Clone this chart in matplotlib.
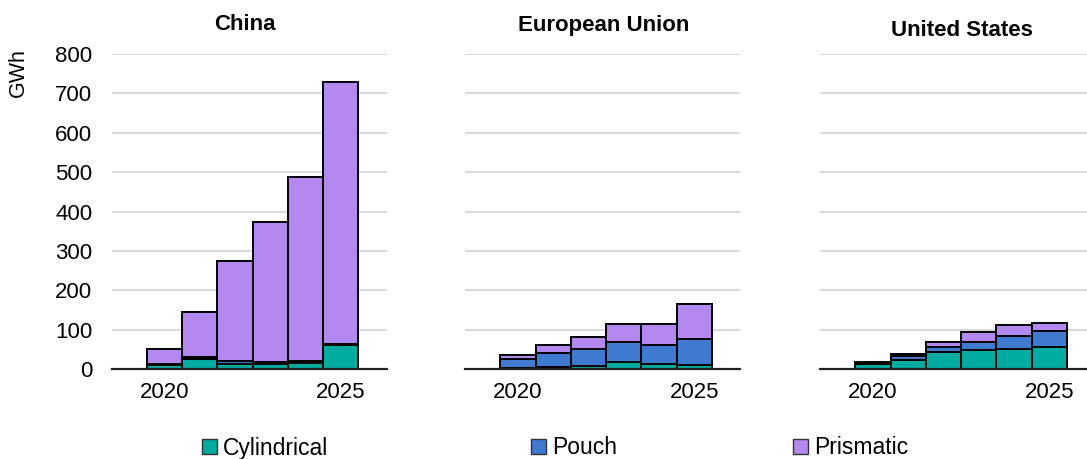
import matplotlib
matplotlib.use("Agg")
import matplotlib.pyplot as plt
from matplotlib.patches import Patch

plt.rcParams['font.family'] = ['Liberation Sans', 'DejaVu Sans']

years = [2020, 2021, 2022, 2023, 2024, 2025]
regions = ["China", "European Union", "United States"]

china_cyl = [10, 25, 12, 12, 16, 60]
china_pouch = [2, 6, 8, 6, 5, 4]
china_prism = [38, 113, 254, 356, 467, 666]

eu_cyl = [2, 5, 8, 19, 13, 11]
eu_pouch = [23, 36, 44, 49, 47, 66]
eu_prism = [10, 19, 30, 47, 54, 87]

us_cyl = [12, 24, 42, 48, 50, 56]
us_pouch = [4, 10, 15, 21, 35, 40]
us_prism = [2, 4, 12, 26, 28, 22]

series_names = ["Cylindrical", "Pouch", "Prismatic"]
colors = ["#00ab9f", "#3d7ad0", "#b388ef"]

data = {
    "China": [china_cyl, china_pouch, china_prism],
    "European Union": [eu_cyl, eu_pouch, eu_prism],
    "United States": [us_cyl, us_pouch, us_prism],
}

W, H = 1087, 459
fig = plt.figure(figsize=(W / 100, H / 100), dpi=100)

ax_left_px = [111.6, 465.0, 820.0]
ax_w_px = 275.0
y0_px, y800_px = 369.0, 54.0
title_x_px = [245, 604, 962]
title_y_px = [25, 25, 30]

for i, reg in enumerate(regions):
    ax = fig.add_axes([ax_left_px[i] / W, (H - y0_px) / H,
                       ax_w_px / W, (y0_px - y800_px) / H])
    bottom = [0] * len(years)
    for s, c, vals in zip(series_names, colors, data[reg]):
        ax.bar(years, vals, width=1.0, bottom=bottom, color=c,
               edgecolor="black", linewidth=1.4, zorder=3)
        bottom = [b + v for b, v in zip(bottom, vals)]
    ax.set_xlim(2018.5, 2026.3)
    ax.set_ylim(0, 800)
    ax.set_yticks(range(0, 801, 100))
    ax.yaxis.grid(True, color="#d9d9d9", linewidth=1.4, zorder=0)
    ax.set_axisbelow(True)
    for sp in ["top", "right", "left"]:
        ax.spines[sp].set_visible(False)
    ax.spines["bottom"].set_color("#222222")
    ax.spines["bottom"].set_linewidth(1.6)
    ax.spines["bottom"].set_zorder(4)
    ax.set_xticks([2020, 2025])
    ax.set_xticklabels(["2020", "2025"], fontsize=16)
    ax.tick_params(axis="x", length=0, pad=9)
    ax.tick_params(axis="y", length=0, pad=14, labelsize=16)
    if i == 0:
        ax.set_ylabel("GWh", fontsize=15.5)
        ax.yaxis.set_label_coords(-0.30, 0.94)
    else:
        ax.set_yticklabels([])
    fig.text(title_x_px[i] / W, 1 - title_y_px[i] / H, reg,
             ha="center", va="center", fontsize=16, fontweight="bold")

leg_x = [202, 531, 793]
for x, s, c in zip(leg_x, series_names, colors):
    fig.legend(handles=[Patch(facecolor=c, edgecolor="#333333", linewidth=1.0)],
               labels=[s], loc="center left",
               bbox_to_anchor=(x / W, 1 - 448 / H), frameon=False,
               fontsize=16.5, handlelength=0.65, handleheight=0.65,
               handletextpad=0.25, borderpad=0, borderaxespad=0)

fig.savefig("out.png", dpi=100)
